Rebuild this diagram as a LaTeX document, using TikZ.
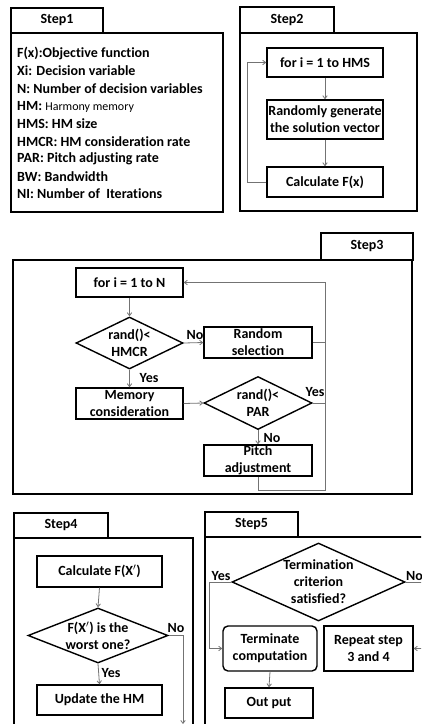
\documentclass[tikz,border=0pt]{standalone}
\usepackage{fontspec}
\setmainfont[Ligatures={NoCommon}]{Carlito}
\usetikzlibrary{shapes.geometric,arrows.meta}
\definecolor{conncol}{RGB}{115,115,115}
\begin{document}
\begin{tikzpicture}[x=1pt,y=-1pt,
  every node/.style={font=\fontsize{14}{17}\selectfont\bfseries},
  frame/.style={draw,line width=1.4pt},
  blk/.style={draw,line width=1.4pt,inner sep=0pt,align=center},
  rblk/.style={blk,rounded corners=5pt},
  dia/.style={diamond,draw,line width=1.4pt,inner sep=-14pt,align=center},
  conn/.style={draw=conncol,line width=0.8pt},
  arr/.style={conn,-{Straight Barb[length=3pt,width=4.5pt]}},
  lbl/.style={inner sep=0pt},
  txt/.style={inner sep=0pt,anchor=west}
]
\useasboundingbox (0,0) rectangle (421,724);
\clip (0,0) rectangle (421,724);

% ---------- Step 1 ----------
\node[blk,minimum width=92pt,minimum height=25pt] (tab1) at (57,20.5) {Step1};
\draw[frame] (11,33) rectangle (223,212);
\node[txt] (l1) at (17,53) {F(x):Objective function};
\node[txt] (l2) at (17,71) {Xi: Decision variable};
\node[txt] (l3) at (17,88.5) {N: Number of decision variables};
\node[txt] (l4) at (17,106.5) {HM: {\mdseries\fontsize{12}{14}\selectfont Harmony memory}};
\node[txt] (l5) at (17,124) {HMS: HM size};
\node[txt] (l6) at (17,141.5) {HMCR: HM consideration rate};
\node[txt] (l7) at (17,159) {PAR: Pitch adjusting rate};
\node[txt] (l8) at (17,176.5) {BW: Bandwidth};
\node[txt] (l9) at (17,193.5) {NI: Number of\ \ Iterations};

% ---------- Step 2 ----------
\node[blk,minimum width=94pt,minimum height=26pt] (tab2) at (287,20) {Step2};
\draw[frame] (240,33) rectangle (417,211);
\node[blk,minimum width=116pt,minimum height=29pt] (for2) at (325,62.5) {for i = 1 to HMS};
\node[blk,minimum width=116pt,minimum height=39pt] (gen2) at (325,119.5) {Randomly generate\\the solution vector};
\node[blk,minimum width=116pt,minimum height=30pt] (calc2) at (325,182) {Calculate F(x)};
\coordinate (lp2) at (247,182);
\draw[arr] (for2.south) -- (gen2.north);
\draw[arr] (gen2.south) -- (calc2.north);
\draw[arr] (calc2.west) -- (lp2) -- (lp2 |- for2.west) -- (for2.west);

% ---------- Step 3 ----------
\node[blk,minimum width=92pt,minimum height=27pt] (tab3) at (367,246.5) {Step3};
\draw[frame] (13,260) rectangle (412,494);
\node[blk,minimum width=107pt,minimum height=29pt] (for3) at (129.5,282.5) {for i = 1 to N};
\node[dia,minimum width=107pt,minimum height=52pt] (hmcr) at (129.5,343) {rand()<\\HMCR};
\node[blk,minimum width=108pt,minimum height=31pt] (rsel) at (258,342.5) {Random\\selection};
\node[blk,minimum width=107pt,minimum height=31pt] (mem) at (129.5,403.5) {Memory\\consideration};
\node[dia,minimum width=108pt,minimum height=53pt] (par) at (258,403) {rand()<\\PAR};
\node[blk,minimum width=108pt,minimum height=31pt] (pitch) at (258,460.5) {Pitch\\adjustment};
\coordinate (lp3) at (325,490);
\draw[arr] (for3.south) -- (hmcr.north);
\draw[arr] (hmcr.east) -- (rsel.west);
\draw[arr] (hmcr.south) -- (mem.north);
\draw[arr] (mem.east) -- (par.west);
\draw[arr] (par.south) -- (pitch.north);
\draw[conn] (rsel.east) -- (rsel.east -| lp3);
\draw[conn] (par.east) -- (par.east -| lp3);
\draw[arr] (pitch.south) |- (lp3) -- (lp3 |- for3.east) -- (for3.east);
\node[lbl] (no3a) at (195,335) {No};
\node[lbl] (yes3a) at (149,378) {Yes};
\node[lbl] (yes3b) at (315,392) {Yes};
\node[lbl] (no3b) at (272,438) {No};

% ---------- Step 4 ----------
\node[blk,minimum width=94pt,minimum height=25pt] (tab4) at (61,525.5) {Step4};
\draw[frame] (14,538) rectangle (193,745);
\node[blk,minimum width=125pt,minimum height=31pt] (calc4) at (99.5,571.5) {Calculate F(X$'$)};
\node[dia,minimum width=140pt,minimum height=55pt] (worst) at (98,635.5) {F(X$'$) is the\\worst one?};
\node[blk,minimum width=125pt,minimum height=30pt] (upd) at (99.5,700) {Update the HM};
\coordinate (lp4) at (183,724);
\draw[arr] (calc4.south) -- (worst.north);
\draw[arr] (worst.south) -- (upd.north);
\draw[arr] (worst.east) -- (worst.east -| lp4) -- (lp4);
\node[lbl] (no4) at (176,628) {No};
\node[lbl] (yes4) at (111,673) {Yes};

% ---------- Step 5 ----------
\node[blk,minimum width=93pt,minimum height=25pt] (tab5) at (251.5,524.5) {Step5};
\draw[frame] (205,537) rectangle (445,745);
\node[dia,minimum width=173pt,minimum height=78pt] (term) at (318.5,582) {Termination\\criterion\\satisfied?};
\node[rblk,minimum width=94pt,minimum height=45pt] (tcomp) at (270,648.5) {Terminate\\computation};
\node[blk,minimum width=89pt,minimum height=45pt] (rep) at (368.5,648.5) {Repeat step\\3 and 4};
\node[blk,minimum width=88pt,minimum height=30pt] (out) at (269,703) {Out put};
\coordinate (lp5a) at (209,582);
\coordinate (lp5b) at (430,582);
\draw[arr] (term.west) -- (lp5a) |- (tcomp.west);
\draw[arr] (term.east) -- (lp5b) |- (rep.east);
\draw[arr] (tcomp.south) -- (out.north);
\node[lbl] (yes5) at (221,576) {Yes};
\node[lbl,anchor=west] (no5) at (406,576) {No};
\end{tikzpicture}
\end{document}
